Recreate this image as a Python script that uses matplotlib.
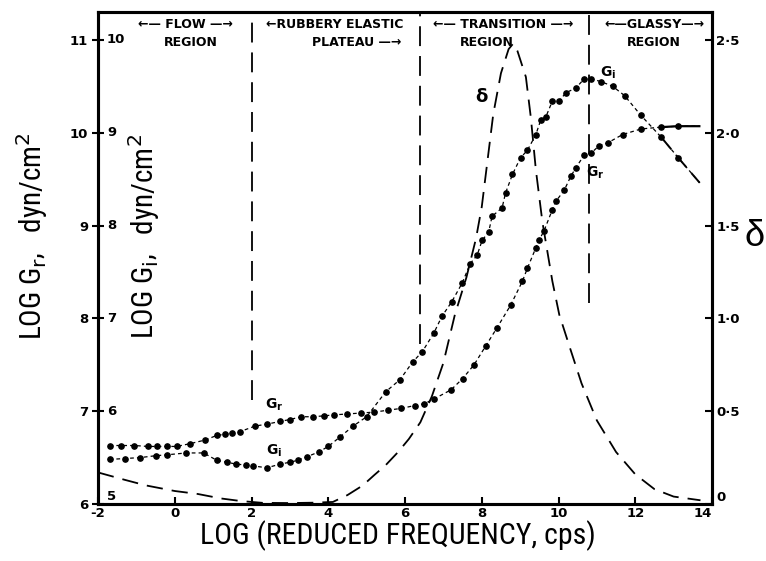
import matplotlib
matplotlib.use("Agg")
import matplotlib.pyplot as plt
import matplotlib.transforms as mtransforms
from matplotlib import font_manager

_names = {f.name for f in font_manager.fontManager.ttflist}
NARROW = None
for cand in ['Roboto Condensed', 'Liberation Sans Narrow', 'DejaVu Sans Condensed',
             'Open Sans Condensed', 'Noto Sans Condensed']:
    if cand in _names:
        NARROW = cand
        break
if NARROW is None:
    LABEL_FAMILY = ['DejaVu Sans']
    LBL_SIZE = 18
else:
    LABEL_FAMILY = [NARROW, 'DejaVu Sans']
    LBL_SIZE = 21.5

# ---------------- data ----------------
gr_x = [-1.7, -1.4, -1.05, -0.7, -0.45, -0.2, 0.05, 0.4, 0.8, 1.1, 1.3, 1.5, 1.7,
        2.1, 2.4, 2.75, 3.0, 3.3, 3.6, 3.9, 4.15, 4.5, 4.85, 5.2, 5.55, 5.9, 6.25,
        6.5, 6.75, 7.2, 7.5, 7.8, 8.1, 8.4, 8.75, 9.06, 9.19, 9.41, 9.49, 9.62,
        9.84, 9.93, 10.15, 10.32, 10.45, 10.67, 10.85, 11.06, 11.28, 11.67, 12.15,
        12.68, 13.12, 13.67]
gr_y = [6.63, 6.63, 6.63, 6.62, 6.62, 6.62, 6.62, 6.65, 6.69, 6.74, 6.75, 6.77, 6.78,
        6.84, 6.86, 6.89, 6.91, 6.94, 6.94, 6.95, 6.96, 6.97, 6.98, 6.99, 7.01, 7.03, 7.06,
        7.08, 7.13, 7.23, 7.35, 7.50, 7.70, 7.90, 8.14, 8.40, 8.54, 8.76, 8.84, 8.94,
        9.17, 9.26, 9.38, 9.53, 9.62, 9.76, 9.78, 9.86, 9.89, 9.98, 10.04,
        10.06, 10.07, 10.07]

gi_x = [-1.7, -1.3, -0.9, -0.5, -0.2, 0.3, 0.75, 1.1, 1.35, 1.6, 1.85, 2.05, 2.4,
        2.75, 3.0, 3.2, 3.45, 3.75, 4.0, 4.3, 4.65, 5.0, 5.5, 5.87, 6.2, 6.45, 6.75,
        6.96, 7.22, 7.49, 7.70, 7.88, 8.01, 8.18, 8.27, 8.53, 8.62, 8.80, 9.01, 9.19,
        9.41, 9.54, 9.67, 9.84, 10.02, 10.19, 10.45, 10.67, 10.85, 11.11, 11.41,
        11.72, 12.14, 12.68, 13.12, 13.68]
gi_y = [6.48, 6.49, 6.50, 6.52, 6.53, 6.55, 6.55, 6.47, 6.45, 6.43, 6.42, 6.41, 6.39,
        6.43, 6.45, 6.47, 6.51, 6.56, 6.62, 6.72, 6.84, 6.94, 7.21, 7.34, 7.53, 7.64, 7.84,
        8.02, 8.18, 8.38, 8.59, 8.68, 8.84, 8.93, 9.10, 9.19, 9.35, 9.55, 9.73, 9.81,
        9.98, 10.14, 10.17, 10.34, 10.34, 10.43, 10.48, 10.58, 10.58, 10.55, 10.50,
        10.40, 10.19, 9.95, 9.73, 9.46]

delta_x = [-2.0, -1.3, -0.75, 0.0, 0.6, 1.2, 1.72, 2.3, 3.0, 3.6, 4.12, 4.5, 4.9,
           5.2, 5.5, 5.82, 6.1, 6.4, 6.7, 7.0, 7.3, 7.6, 7.85, 8.0, 8.15, 8.3, 8.5,
           8.7, 8.82, 8.93, 9.15, 9.28, 9.41, 9.58, 9.71, 9.84, 10.02, 10.3, 10.6,
           11.0, 11.5, 12.0, 12.5, 13.0, 13.7]
delta_y = [0.17, 0.13, 0.10, 0.07, 0.054, 0.03, 0.016, 0.006, 0.005, 0.007, 0.011,
           0.048, 0.10, 0.156, 0.21, 0.28, 0.35, 0.44, 0.58, 0.76, 1.02, 1.22, 1.43,
           1.60, 1.85, 2.10, 2.32, 2.45, 2.48, 2.44, 2.30, 2.08, 1.80, 1.52, 1.36,
           1.20, 1.02, 0.84, 0.65, 0.45, 0.28, 0.16, 0.08, 0.04, 0.02]

x_ticks = [-2, 0, 2, 4, 6, 8, 10, 12, 14]
x_tick_labels = ['-2', '0', '2', '4', '6', '8', '10', '12', '14']
gr_ticks = [6, 7, 8, 9, 10, 11]
gr_tick_labels = ['6', '7', '8', '9', '10', '11']
gi_tick_labels = ['5', '6', '7', '8', '9', '10']
delta_ticks = [0, 0.5, 1.0, 1.5, 2.0, 2.5]
delta_tick_labels = ['0', '0·5', '1·0', '1·5', '2·0', '2·5']

region_bounds = [2.0, 6.4, 10.8]
region_bound_bottoms = [7.12, 7.72, 8.17]
region_line1 = ['\u2190\u2014 FLOW \u2014\u2192', '\u2190RUBBERY ELASTIC',
                '\u2190\u2014 TRANSITION \u2014\u2192', '\u2190\u2014GLASSY\u2014\u2192']
region_line1_x = [0.27, 4.18, 8.55, 12.5]
region_line2 = ['REGION', 'PLATEAU \u2014\u2192', 'REGION', 'REGION']
region_line2_x = [0.43, 4.75, 8.13, 12.48]

# ---------------- figure ----------------
fig = plt.figure(figsize=(7.66, 5.61), dpi=100)
ax = fig.add_axes([98 / 766, 1 - 504 / 561, (712 - 98) / 766, (504 - 12) / 561])
ax.set_xlim(-2, 14)
ax.set_ylim(6, 11.30)

for sp in ax.spines.values():
    sp.set_linewidth(2.2)

dot_ls = (0, (3, 2.5))
ax.plot(gr_x, gr_y, color='black', lw=0.9, ls=dot_ls, marker='o', ms=3.8,
        markevery=slice(0, len(gr_x) - 1))
ax.plot(gr_x[-3:], gr_y[-3:], color='black', lw=1.6)
ax.plot(gi_x, gi_y, color='black', lw=0.9, ls=dot_ls, marker='o', ms=3.8,
        markevery=slice(0, len(gi_x) - 1))
ax.plot(gi_x[-3:], gi_y[-3:], color='black', lw=1.4, ls=(0, (8, 4)))

ax.set_xticks(x_ticks)
ax.set_xticklabels(x_tick_labels, fontweight='bold', fontsize=9.5)
ax.get_xticklabels()[-1].set_horizontalalignment('right')
ax.set_yticks(gr_ticks)
ax.set_yticklabels(gr_tick_labels, fontweight='bold', fontsize=9.5)
ax.tick_params(axis='x', direction='in', length=5, width=1.5, pad=2)
ax.tick_params(axis='y', direction='inout', length=8, width=1.5, pad=3)

# inner G_i tick labels
trans = mtransforms.blended_transform_factory(ax.transAxes, ax.transData)
offs = mtransforms.offset_copy(trans, fig=fig, x=9, y=0, units='dots')
for t, lab in zip(gr_ticks, gi_tick_labels):
    yy = t + 0.08 if t == 6 else t
    ax.text(0, yy, lab, transform=offs, ha='left', va='center',
            fontweight='bold', fontsize=9.5)

# region separators
for xb, yb in zip(region_bounds, region_bound_bottoms):
    ax.plot([xb, xb], [yb, 11.30], color='black', lw=1.3, ls=(0, (11, 5.5)))

tx = mtransforms.blended_transform_factory(ax.transData, ax.transAxes)
for s, xx in zip(region_line1, region_line1_x):
    ax.text(xx, 0.974, s, transform=tx, ha='center', va='center',
            fontweight='bold', fontsize=9)
for s, xx in zip(region_line2, region_line2_x):
    ax.text(xx, 0.939, s, transform=tx, ha='center', va='center',
            fontweight='bold', fontsize=9)

# curve labels
ax.text(2.6, 7.07, r'$\mathbf{G_r}$', fontsize=10, ha='center', va='center')
ax.text(2.6, 6.57, r'$\mathbf{G_i}$', fontsize=10, ha='center', va='center')
ax.text(11.3, 10.64, r'$\mathbf{G_i}$', fontsize=10, ha='center', va='center')
ax.text(10.95, 9.57, r'$\mathbf{G_r}$', fontsize=10, ha='center', va='center')

# delta axis
ax2 = ax.twinx()
ax2.set_ylim(0, (11.30 - 6) / 2)
ax2.plot(delta_x, delta_y, color='black', lw=1.3, ls=(0, (9, 5)))
ax2.set_yticks(delta_ticks)
ax2.set_yticklabels(delta_tick_labels, fontweight='bold', fontsize=9.5)
ax2.get_yticklabels()[0].set_verticalalignment('bottom')
ax2.tick_params(axis='y', direction='in', length=5, width=1.5, pad=3)
for sp in ax2.spines.values():
    sp.set_linewidth(2.2)
ax2.text(8.0, 2.19, '\u03b4', fontsize=13, ha='center', va='center', fontweight='bold')

# axis labels
fig.text(398 / 766, 1 - 536 / 561, 'LOG (REDUCED FREQUENCY, cps)', family=LABEL_FAMILY,
         fontsize=LBL_SIZE, ha='center', va='center')
fig.text(32 / 766, 1 - 236 / 561, r'LOG G$_\mathrm{r}$,   dyn/cm$^\mathrm{2}$',
         family=LABEL_FAMILY, fontsize=LBL_SIZE - 0.5, ha='center', va='center', rotation=90)
fig.text(144 / 766, 1 - 236 / 561, r'LOG G$_\mathrm{i}$,   dyn/cm$^\mathrm{2}$',
         family=LABEL_FAMILY, fontsize=LBL_SIZE - 0.5, ha='center', va='center', rotation=90)
fig.text(755 / 766, 1 - 237 / 561, '\u03b4', family=['Liberation Sans', 'DejaVu Sans'],
         fontsize=26, ha='center', va='center')

fig.savefig('out.png', dpi=100)
